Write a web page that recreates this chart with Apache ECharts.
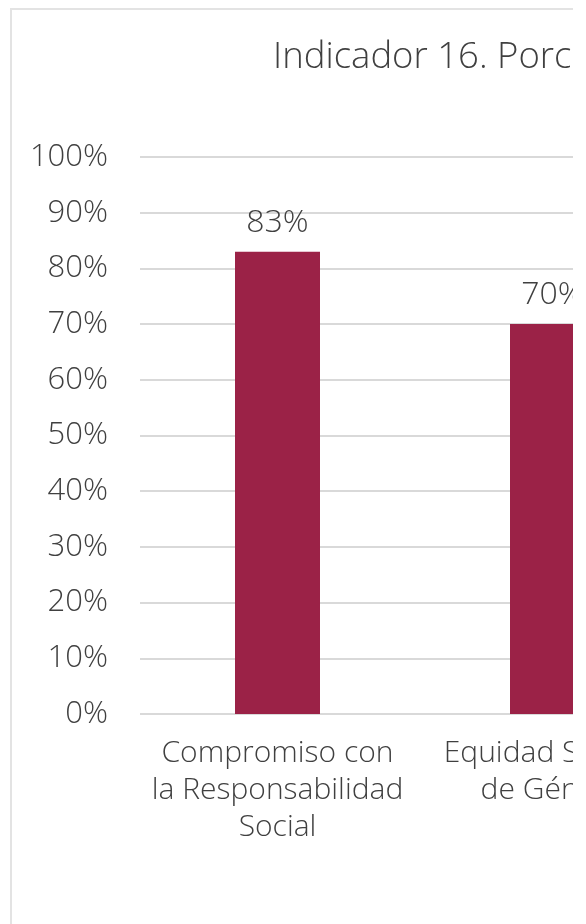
<!DOCTYPE html>
<html>
<head>
<meta charset="utf-8">
<script src="https://cdn.jsdelivr.net/npm/echarts@6/dist/echarts.min.js"></script>
<style>
  html, body { margin: 0; padding: 0; background: #fff; width: 586px; height: 924px; overflow: hidden; }
  #clip { position: absolute; left: 0; top: 0; width: 573px; height: 924px; overflow: hidden; }
  #frame { position: absolute; left: 10px; top: 8px; width: 700px; height: 1000px; border-top: 2px solid #e3e3e3; border-left: 2px solid #e3e3e3; }
  #chart { position: absolute; left: 0; top: 0; width: 700px; height: 924px; }
</style>
</head>
<body>
<div id="clip">
  <div id="frame"></div>
  <div id="chart"></div>
</div>
<script>
const titleText = 'Indicador 16. Porcentaje de cumplimiento';
const categories = ['Compromiso con\nla Responsabilidad\nSocial', 'Equidad Social y\nde Género'];
const values = [83, 70];
const tickLabels = ['0%', '10%', '20%', '30%', '40%', '50%', '60%', '70%', '80%', '90%', '100%'];

const FONT = "'Open Sans', 'Noto Sans', sans-serif";
const TXT = '#404040';

const chart = echarts.init(document.getElementById('chart'), null, { renderer: 'canvas' });
chart.setOption({
  animation: false,
  title: {
    text: titleText,
    left: 268,
    top: 34,
    textStyle: { fontFamily: FONT, fontSize: 36.5, fontWeight: 300, color: TXT }
  },
  grid: { left: 140, top: 157, width: 550, height: 557, containLabel: false },
  xAxis: {
    type: 'category',
    data: categories,
    axisLine: { show: false },
    axisTick: { show: false },
    axisLabel: {
      interval: 0,
      margin: 21,
      fontFamily: FONT, fontSize: 30, fontWeight: 300, color: TXT,
      lineHeight: 37, align: 'center'
    }
  },
  yAxis: {
    type: 'value',
    min: 0, max: 100, interval: 10,
    axisLine: { show: false },
    axisTick: { show: false },
    splitLine: { show: true, lineStyle: { color: '#d9d9d9', width: 2 } },
    axisLabel: {
      margin: 32,
      fontFamily: FONT, fontSize: 31, fontWeight: 300, color: TXT,
      formatter: function (v) { return tickLabels[Math.round(v / 10)]; }
    }
  },
  series: [{
    type: 'bar',
    data: values,
    barWidth: 85,
    itemStyle: { color: '#9b2247' },
    label: {
      show: true, position: 'top', distance: 13,
      fontFamily: FONT, fontSize: 32, fontWeight: 300, color: TXT,
      formatter: function (p) { return p.value + '%'; }
    }
  }]
});
</script>
</body>
</html>
